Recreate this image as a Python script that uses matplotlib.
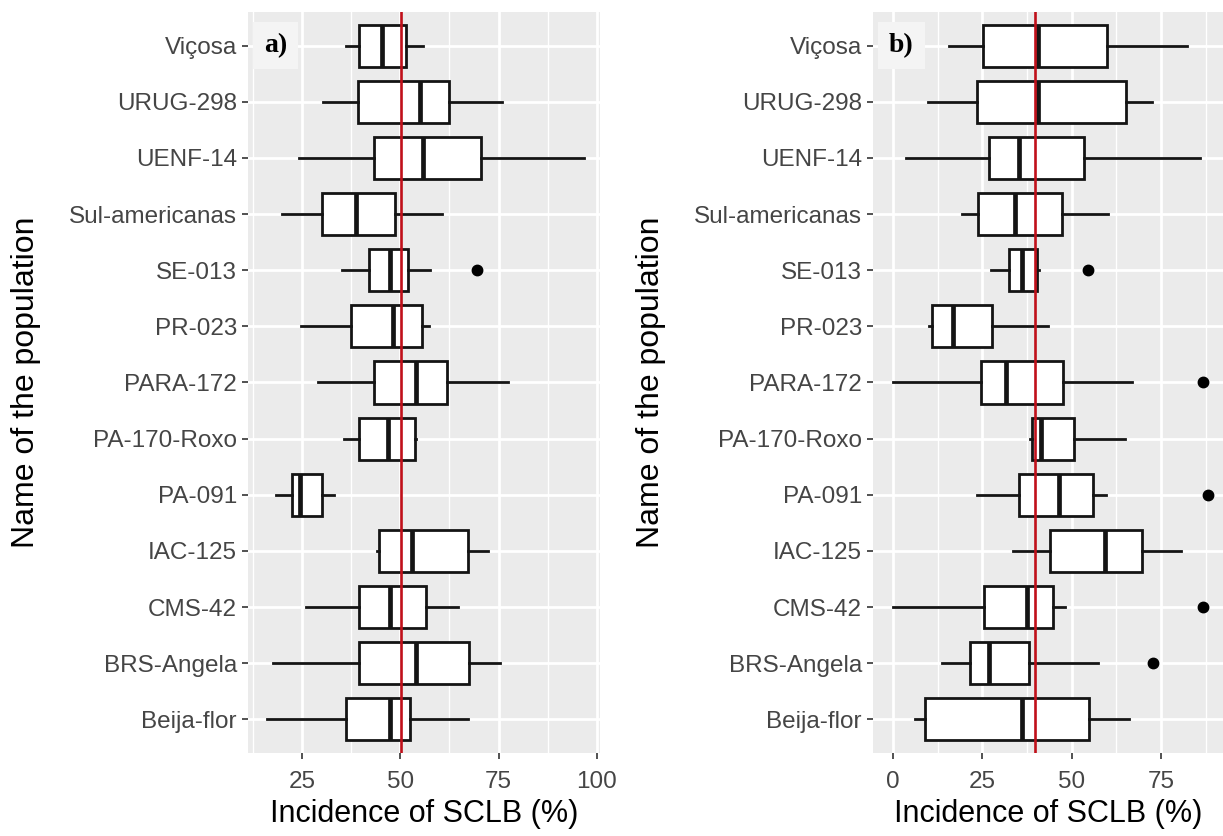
import matplotlib
matplotlib.use("Agg")
import matplotlib.pyplot as plt
from matplotlib.ticker import MultipleLocator

plt.rcParams['font.family'] = ['Liberation Sans', 'DejaVu Sans']

categories = ["Beija-flor", "BRS-Angela", "CMS-42", "IAC-125", "PA-091", "PA-170-Roxo",
              "PARA-172", "PR-023", "SE-013", "Sul-americanas", "UENF-14", "URUG-298", "Viçosa"]

# Panel a) box statistics (bottom to top)
a_whislo = [16.2, 17.7, 26.0, 44.0, 18.4, 35.7, 29.2, 24.7, 35.1, 20.0, 24.2, 30.3, 36.2]
a_q1     = [36.2, 39.6, 39.6, 44.7, 22.6, 39.5, 43.4, 37.6, 42.1, 30.2, 43.4, 39.3, 39.5]
a_med    = [47.4, 53.9, 47.4, 52.9, 24.5, 47.0, 53.9, 48.1, 47.4, 38.7, 55.7, 55.0, 45.3]
a_q3     = [52.6, 67.4, 56.5, 67.2, 30.2, 53.8, 61.8, 55.5, 52.0, 48.7, 70.5, 62.5, 51.5]
a_whishi = [67.3, 75.5, 64.8, 72.4, 33.1, 54.0, 77.5, 57.4, 57.7, 60.7, 96.8, 76.0, 55.7]
a_out    = [[], [], [], [], [], [], [], [], [69.4], [], [], [], []]
a_ref = 50.2

# Panel b) box statistics (bottom to top)
b_whislo = [6.1, 13.8, 0.0, 33.6, 23.4, 38.3, 0.0, 10.0, 27.3, 19.4, 3.7, 9.8, 15.7]
b_q1     = [8.9, 21.5, 25.4, 43.9, 35.3, 38.8, 24.5, 10.8, 32.4, 23.8, 26.9, 23.4, 25.2]
b_med    = [36.0, 26.8, 37.4, 59.4, 46.5, 41.4, 31.5, 16.7, 36.2, 34.1, 35.3, 40.7, 40.5]
b_q3     = [54.9, 38.0, 44.7, 69.8, 56.1, 50.7, 47.5, 27.6, 40.2, 47.4, 53.5, 65.1, 59.8]
b_whishi = [66.2, 57.3, 48.1, 80.6, 59.6, 65.0, 67.0, 43.3, 40.9, 60.1, 86.0, 72.6, 82.3]
b_out    = [[], [72.7], [86.9], [], [88.3], [], [86.9], [], [54.7], [], [], [], []]
b_ref = 39.7

a_ticks = [25, 50, 75, 100]
b_ticks = [0, 25, 50, 75]

W, H = 1223, 836
fig = plt.figure(figsize=(W / 100, H / 100), dpi=100)

def px_axes(l, t, r, b):
    return fig.add_axes([l / W, 1 - b / H, (r - l) / W, (b - t) / H])

def draw_panel(ax, whislo, q1, med, q3, whishi, outs, ref, ticks, xlim, tag):
    stats = []
    for i in range(len(categories)):
        stats.append(dict(whislo=whislo[i], q1=q1[i], med=med[i], q3=q3[i],
                          whishi=whishi[i], fliers=outs[i], label=categories[i]))
    ax.set_facecolor('#EBEBEB')
    ax.bxp(stats, positions=list(range(1, len(categories) + 1)), vert=False,
           widths=0.75, patch_artist=True, showcaps=False, zorder=3,
           boxprops=dict(facecolor='white', edgecolor='#141414', linewidth=2.0),
           whiskerprops=dict(color='#141414', linewidth=2.0),
           medianprops=dict(color='#141414', linewidth=3.4),
           flierprops=dict(marker='o', markerfacecolor='black', markeredgecolor='black',
                           markersize=7.5))
    ax.axvline(ref, color='#C0101A', linewidth=1.9, zorder=5)
    ax.set_xlim(*xlim)
    ax.set_ylim(0.4, len(categories) + 0.6)
    ax.set_xticks(ticks)
    ax.xaxis.set_minor_locator(MultipleLocator(12.5))
    ax.grid(which='major', color='white', linewidth=2.0, zorder=0)
    ax.grid(which='minor', axis='x', color='white', linewidth=1.0, zorder=0)
    ax.set_axisbelow(True)
    for s in ax.spines.values():
        s.set_visible(False)
    ax.tick_params(axis='both', which='major', length=4, width=1.2, color='#333333',
                   labelsize=17.5, labelcolor='#454545', pad=4)
    ax.tick_params(axis='x', which='major', pad=9)
    ax.tick_params(which='minor', length=0)
    ax.set_yticks(list(range(1, len(categories) + 1)))
    ax.set_yticklabels(categories)
    ax.set_xlabel('Incidence of SCLB (%)', fontsize=22, color='black', labelpad=4)
    ax.set_ylabel('Name of the population', fontsize=23, color='black', labelpad=20)
    ax.text(0.045, 0.972, tag, transform=ax.transAxes, ha='left', va='top',
            family=['Liberation Serif', 'DejaVu Serif'], fontsize=20, fontweight='bold',
            zorder=6,
            bbox=dict(boxstyle='square,pad=0.4', facecolor='#F4F4F4', edgecolor='none'))

ax_a = px_axes(248, 12, 600, 753)
draw_panel(ax_a, a_whislo, a_q1, a_med, a_q3, a_whishi, a_out, a_ref, a_ticks,
           (11.3, 100.8), 'a)')

ax_b = px_axes(873, 12, 1223, 753)
draw_panel(ax_b, b_whislo, b_q1, b_med, b_q3, b_whishi, b_out, b_ref, b_ticks,
           (-5.6, 92.4), 'b)')

fig.savefig('out.png', dpi=100, facecolor='white')
